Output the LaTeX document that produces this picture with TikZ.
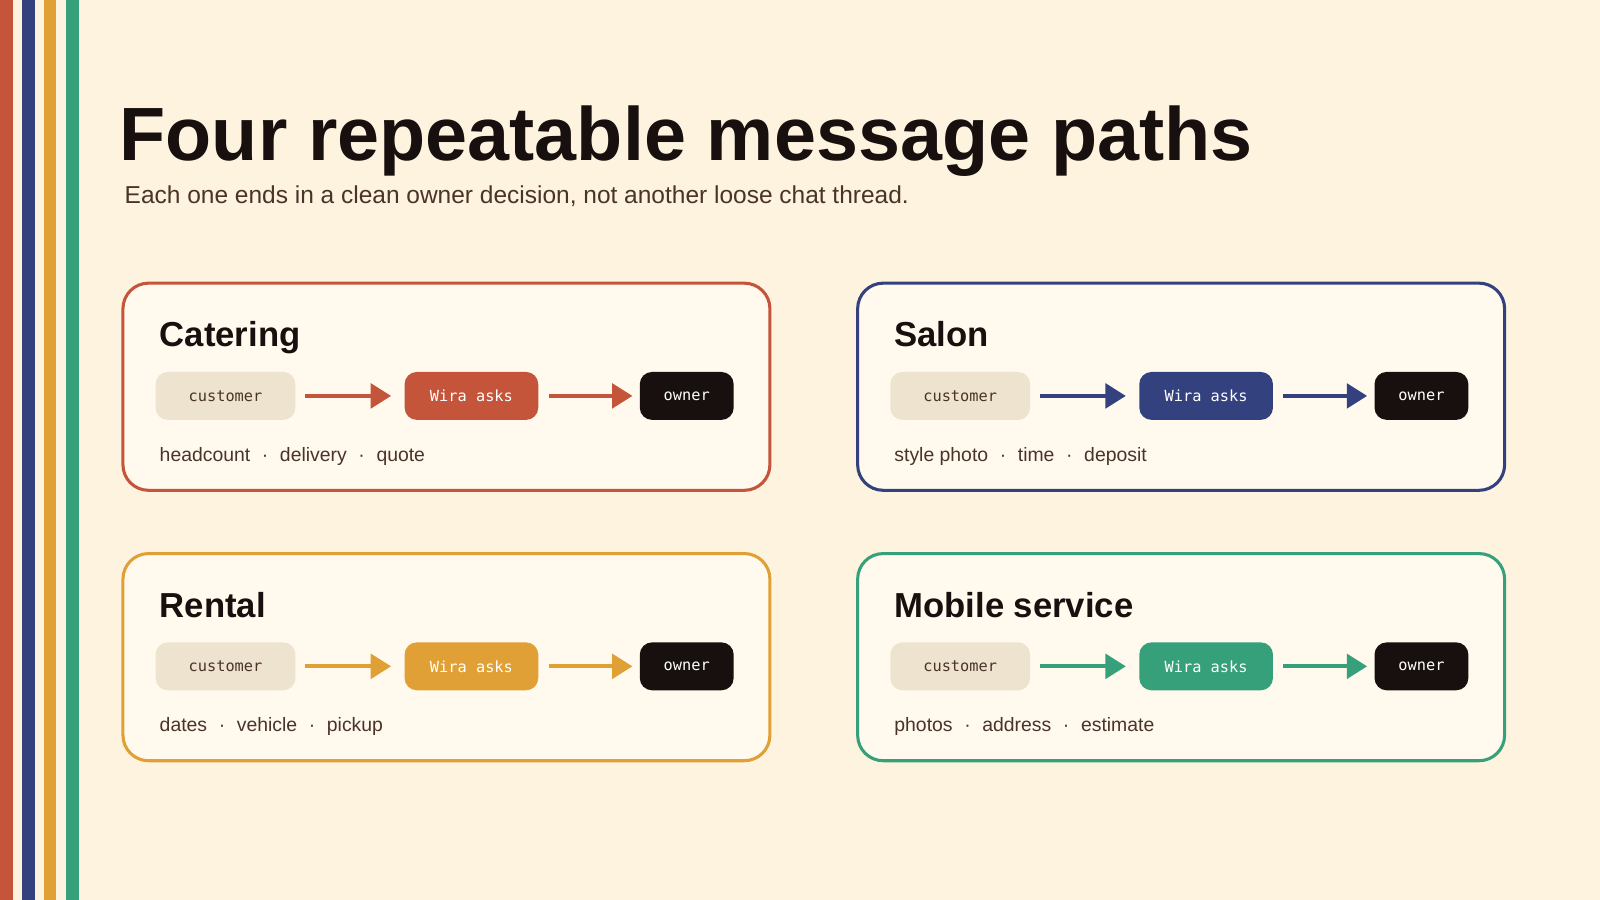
\documentclass[tikz,border=0pt]{standalone}
\usepackage{fontspec}
\setmainfont{Liberation Sans}
\newfontfamily\monof{DejaVu Sans Mono}
\usetikzlibrary{arrows.meta}
\definecolor{bg}{HTML}{FEF3DF}
\definecolor{cardbg}{HTML}{FFF9EE}
\definecolor{cred}{HTML}{C4553A}
\definecolor{cblue}{HTML}{33427F}
\definecolor{cyel}{HTML}{E0A035}
\definecolor{cgreen}{HTML}{35A07A}
\definecolor{beige}{HTML}{EDE3CF}
\definecolor{dark}{HTML}{17100E}
\definecolor{brown}{HTML}{4A3328}
\tikzset{
 cardbox/.style={draw=#1, line width=3pt, rounded corners=25pt, fill=cardbg},
 pill/.style={rounded corners=12pt, minimum height=47pt, inner sep=0pt, font=\monof\fontsize{15}{18}\selectfont},
 flow/.style={draw=#1, line width=4pt, -{Triangle[length=20pt,width=24pt]}, shorten >=0pt},
}
\newcommand\mycard[7]{%
 % #1 prefix, #2 x, #3 y, #4 color, #5 title, #6 labels
 \begin{scope}[shift={(#2,#3)}]
  \node[cardbox=#4, minimum width=634pt, minimum height=203pt, anchor=north west, inner sep=0pt] (#1card) at (0,0) {};
  \node[anchor=base west, font=\bfseries\fontsize{34}{40}\selectfont, text=dark] (#1title) at (34,-64) {#5};
  \node[pill, fill=beige, text=brown, minimum width=137pt] (#1cust) at (102,-112) {customer};
  \node[pill, fill=#4, text=white, minimum width=131pt] (#1wira) at (343,-112) {Wira asks};
  \node[pill, fill=dark, text=white, minimum width=92pt] (#1own) at (554,-112) {owner};
  \draw[flow=#4] ([xshift=9pt]#1cust.east) -- ([xshift=-13pt]#1wira.west);
  \draw[flow=#4] ([xshift=10pt]#1wira.east) -- ([xshift=-7pt]#1own.west);
  \node[anchor=base west, font=\fontsize{19}{22}\selectfont, text=brown] (#1lab) at (34,-176) {#6};
 \end{scope}}
\begin{document}
\begin{tikzpicture}[x=1pt,y=1pt]
\fill[bg] (0,0) rectangle (1568,-882);
\useasboundingbox (0,0) rectangle (1568,-882);
\fill[cred] (0,0) rectangle (13,-882);
\fill[cblue] (22,0) rectangle (34,-882);
\fill[cyel] (43,0) rectangle (55,-882);
\fill[cgreen] (65,0) rectangle (77,-882);
\node[anchor=base west, inner sep=0pt, font=\bfseries\fontsize{74}{80}\selectfont, text=dark] (title) at (117,-157) {Four repeatable message paths};
\node[anchor=base west, inner sep=0pt, font=\fontsize{24}{28}\selectfont, text=brown] (sub) at (122,-199) {Each one ends in a clean owner decision, not another loose chat thread.};
\mycard{a}{119}{-276}{cred}{Catering}{headcount\hspace{0.6em}·\hspace{0.6em}delivery\hspace{0.6em}·\hspace{0.6em}quote}{}
\mycard{b}{839}{-276}{cblue}{Salon}{style photo\hspace{0.6em}·\hspace{0.6em}time\hspace{0.6em}·\hspace{0.6em}deposit}{}
\mycard{c}{119}{-541}{cyel}{Rental}{dates\hspace{0.6em}·\hspace{0.6em}vehicle\hspace{0.6em}·\hspace{0.6em}pickup}{}
\mycard{d}{839}{-541}{cgreen}{Mobile service}{photos\hspace{0.6em}·\hspace{0.6em}address\hspace{0.6em}·\hspace{0.6em}estimate}{}
\end{tikzpicture}
\end{document}
